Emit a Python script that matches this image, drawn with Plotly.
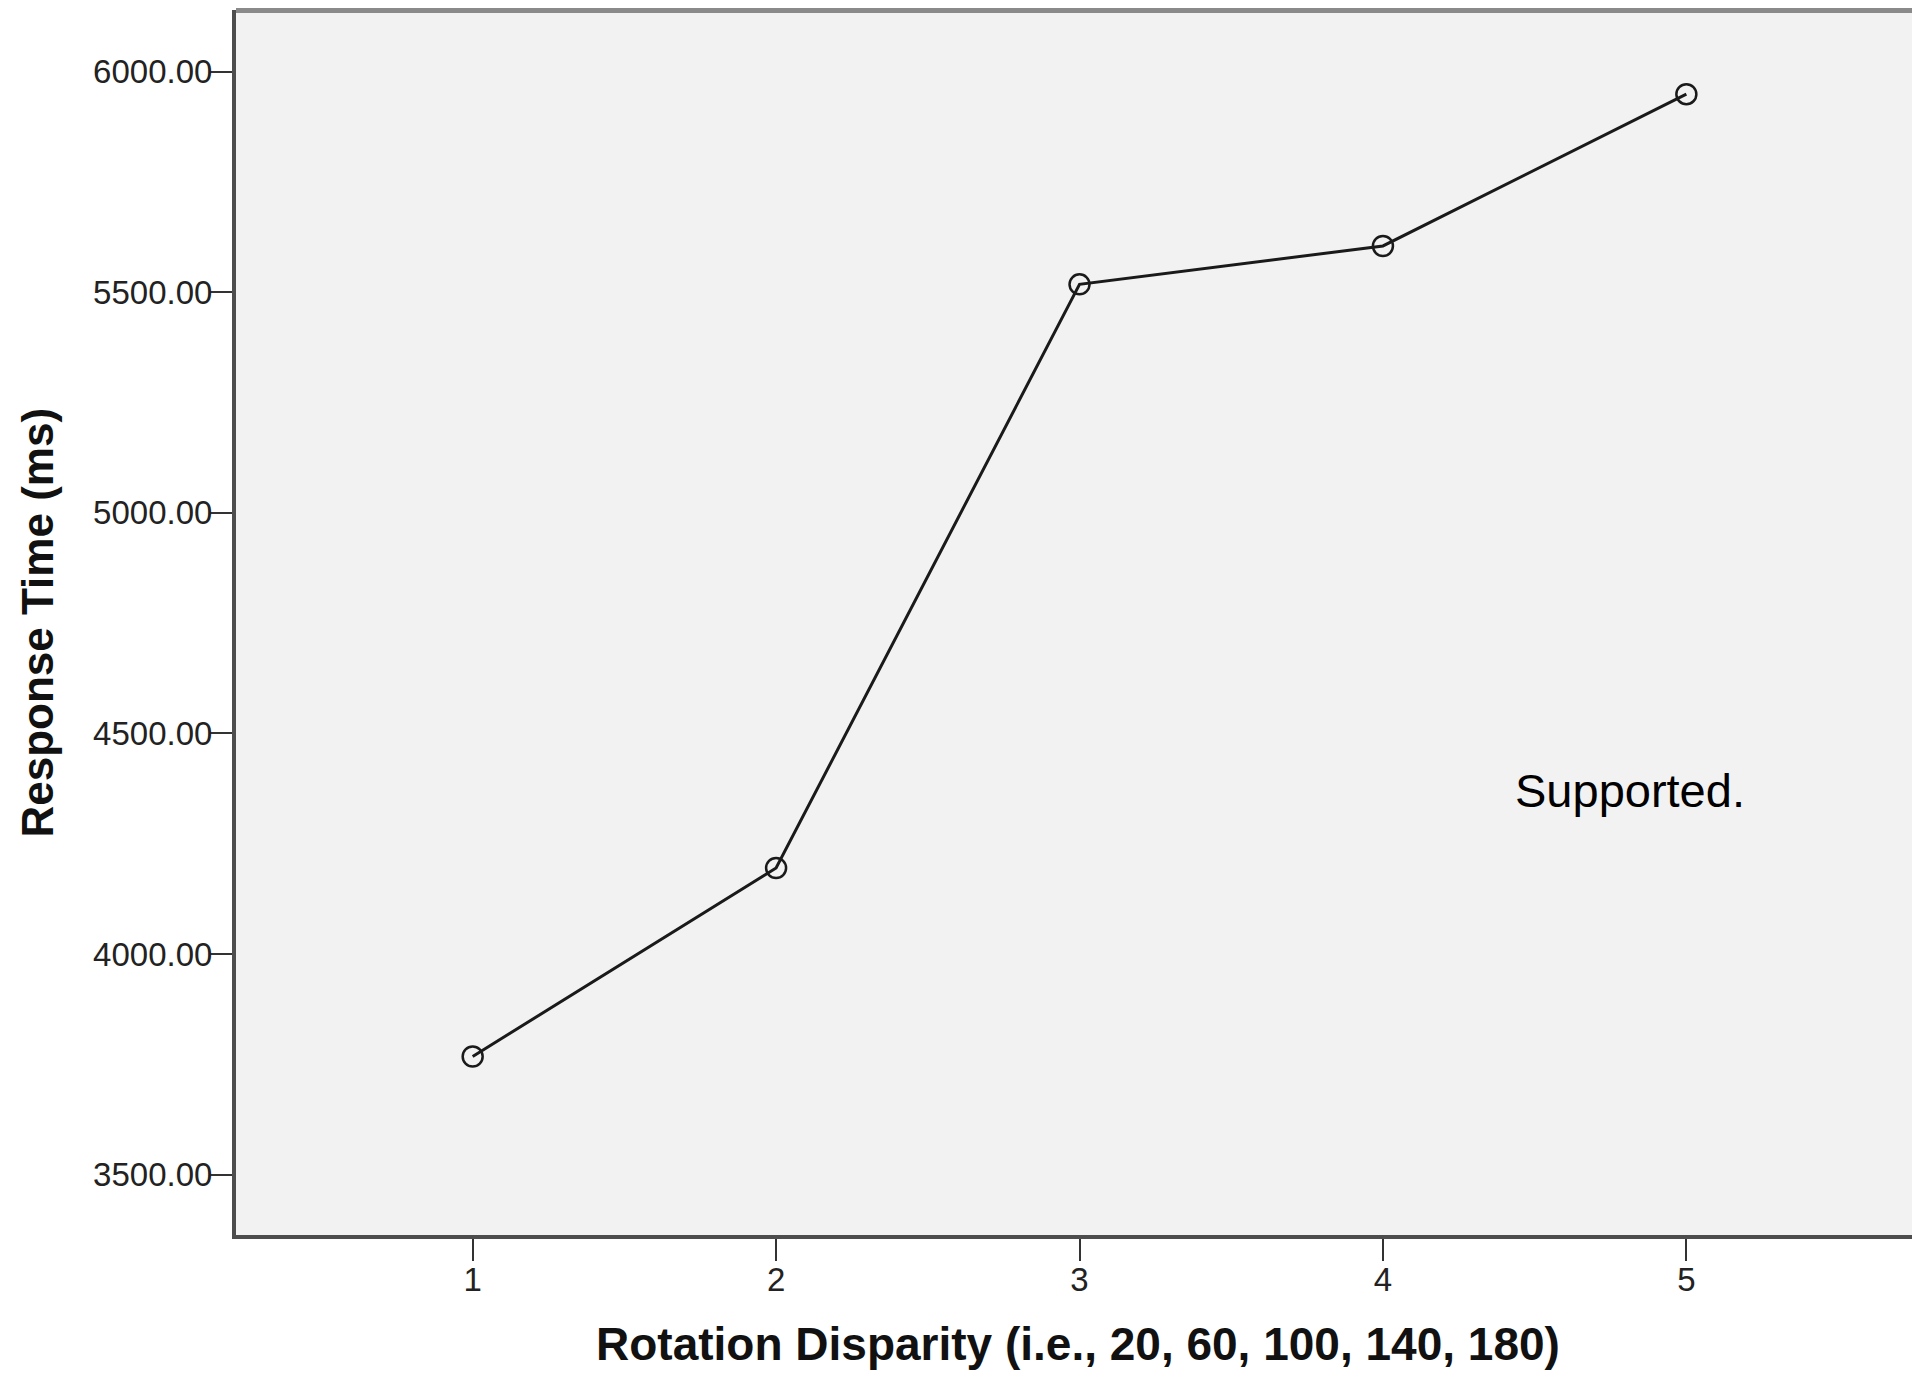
import plotly.graph_objects as go

# Data
x_vals = [1, 2, 3, 4, 5]
response_ms = [3768, 4195, 5518, 5605, 5949]
y_ticks = [3500, 4000, 4500, 5000, 5500, 6000]
x_ticks = [1, 2, 3, 4, 5]
x_title = "Rotation Disparity (i.e., 20, 60, 100, 140, 180)"
y_title = "Response Time (ms)"
note_text = "Supported."

# page body has an 8px margin; size the figure so the plot area lands where the reference's does
W, H = 1912, 1365
L, R, T, B = 228, 0, 2, 138
PW, PH = W - L - R, H - T - B

fig = go.Figure()
fig.add_trace(go.Scatter(
    x=x_vals, y=response_ms, mode="lines+markers",
    line=dict(color="#1a1a1a", width=3),
    marker=dict(symbol="circle-open", size=20, color="#1a1a1a", line=dict(width=2.5)),
    showlegend=False, hoverinfo="x+y",
))

axis_font = dict(family="Liberation Sans, Arial, sans-serif", size=33, color="#222222")

fig.update_layout(
    width=W, height=H,
    margin=dict(l=L, r=R, t=T, b=B, pad=0),
    paper_bgcolor="white",
    plot_bgcolor="#f2f2f2",
    xaxis=dict(
        range=[0.22, 5.77], tickvals=x_ticks, ticktext=[str(v) for v in x_ticks],
        showgrid=False, zeroline=False,
        showline=True, linecolor="#4d4d4d", linewidth=4,
        ticks="outside", ticklen=22, tickwidth=2, tickcolor="#333333",
        tickfont=axis_font, ticklabelstandoff=-10,
    ),
    yaxis=dict(
        range=[3363.3, 6139.8], tickvals=y_ticks, tickformat=".2f",
        showgrid=False, zeroline=False,
        showline=True, linecolor="#4d4d4d", linewidth=4,
        ticks="outside", ticklen=22, tickwidth=2, tickcolor="#333333",
        tickfont=axis_font, ticklabelstandoff=-9,
    ),
    annotations=[
        dict(text=x_title, xref="paper", yref="paper", x=0.5, y=-109 / PH,
             xanchor="center", yanchor="middle", showarrow=False,
             font=dict(family="Liberation Sans, Arial, sans-serif", size=46, color="#111111", weight="bold")),
        dict(text=y_title, xref="paper", yref="paper", x=-199 / PW, y=0.5,
             xanchor="center", yanchor="middle", showarrow=False, textangle=-90,
             font=dict(family="Liberation Sans, Arial, sans-serif", size=44, color="#111111", weight="bold")),
        dict(text=note_text, xref="paper", yref="paper", x=1394 / PW, y=1 - 780 / PH,
             xanchor="center", yanchor="middle", showarrow=False,
             font=dict(family="Liberation Sans, Arial, sans-serif", size=47, color="#000000")),
    ],
    shapes=[
        dict(type="line", xref="paper", yref="paper", x0=0, x1=1, y0=1, y1=1,
             line=dict(color="#8a8a8a", width=6), layer="above"),
    ],
)

fig.write_html("out.html")
